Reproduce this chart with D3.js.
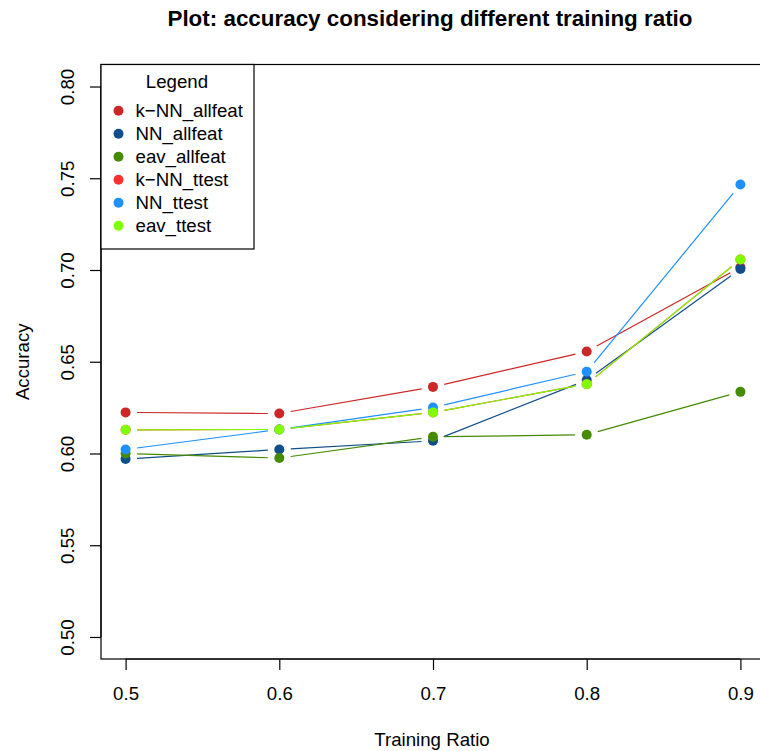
<!DOCTYPE html>
<html>
<head>
<meta charset="utf-8">
<script src="https://cdn.jsdelivr.net/npm/d3@7"></script>
<style>
  html, body { margin: 0; padding: 0; background: #fff; }
  svg { display: block; font-family: "Liberation Sans", Arial, Helvetica, sans-serif; }
</style>
</head>
<body>
<svg id="chart" width="760" height="751"></svg>
<script>
// Training ratios on the x axis
const ratios = [0.5, 0.6, 0.7, 0.8, 0.9];

// Accuracy per method and feature set
const knnAllfeat = [0.6224, 0.6218, 0.6363, 0.6556, 0.7015];
const nnAllfeat  = [0.5970, 0.6022, 0.6069, 0.6400, 0.7006];
const eavAllfeat = [0.6000, 0.5975, 0.6091, 0.6102, 0.6336];
const knnTtest   = [0.6129, 0.6131, 0.6224, 0.6378, 0.7057];
const nnTtest    = [0.6022, 0.6131, 0.6251, 0.6446, 0.7466];
const eavTtest   = [0.6129, 0.6131, 0.6224, 0.6378, 0.7057];

const seriesNames = ["k\u2212NN_allfeat", "NN_allfeat", "eav_allfeat", "k\u2212NN_ttest", "NN_ttest", "eav_ttest"];
const seriesValues = [knnAllfeat, nnAllfeat, eavAllfeat, knnTtest, nnTtest, eavTtest];
const seriesColors = ["#CD2626", "#104E8B", "#458B00", "#FF3030", "#1E90FF", "#7FFF00"];

const xTicks = [0.5, 0.6, 0.7, 0.8, 0.9];
const yTicks = [0.50, 0.55, 0.60, 0.65, 0.70, 0.75, 0.80];

const svg = d3.select("#chart");
const plot = { left: 101, right: 765, top: 64.5, bottom: 659 };
const fs = 18.67;      // base text size
const lw = 1.2;        // line width

// Axis ranges padded by 4% on each side
const x = d3.scaleLinear().domain([0.484, 0.916]).range([plot.left, plot.right]);
const y = d3.scaleLinear().domain([0.488, 0.812]).range([plot.bottom, plot.top]);

// Title
svg.append("text")
  .attr("x", (plot.left + plot.right) / 2 - 3)
  .attr("y", 26)
  .attr("text-anchor", "middle")
  .attr("font-size", 22.4)
  .attr("font-weight", "bold")
  .text("Plot: accuracy considering different training ratio");

// Plot box
svg.append("rect")
  .attr("x", plot.left).attr("y", plot.top)
  .attr("width", plot.right - plot.left).attr("height", plot.bottom - plot.top)
  .attr("fill", "none").attr("stroke", "#000").attr("stroke-width", lw);

// X axis
const xAxis = d3.axisBottom(x).tickValues(xTicks).tickFormat(d3.format(".1f"))
  .tickSizeInner(11).tickSizeOuter(0).tickPadding(17);
const gx = svg.append("g").attr("transform", `translate(0,${plot.bottom})`).call(xAxis);
gx.select(".domain").attr("d", `M${x(xTicks[0])},0H${x(xTicks[xTicks.length - 1])}`);
gx.selectAll("text").attr("font-size", fs).attr("font-family", null).attr("fill", "#000");
gx.selectAll("line, path").attr("stroke", "#000").attr("stroke-width", lw);

// Y axis with labels turned to read upwards
const yAxis = d3.axisLeft(y).tickValues(yTicks).tickFormat(d3.format(".2f"))
  .tickSizeInner(11).tickSizeOuter(0);
const gy = svg.append("g").attr("transform", `translate(${plot.left},0)`).call(yAxis);
gy.select(".domain").attr("d", `M0,${y(yTicks[0])}V${y(yTicks[yTicks.length - 1])}`);
gy.selectAll("line, path").attr("stroke", "#000").attr("stroke-width", lw);
gy.selectAll("text")
  .attr("font-size", fs).attr("font-family", null).attr("fill", "#000")
  .attr("x", null).attr("dy", null)
  .attr("text-anchor", "middle")
  .attr("transform", `translate(${74 - plot.left},0) rotate(-90)`);

// Axis titles
svg.append("text")
  .attr("x", (plot.left + plot.right) / 2 - 1)
  .attr("y", 746)
  .attr("text-anchor", "middle")
  .attr("font-size", fs)
  .text("Training Ratio");
svg.append("text")
  .attr("transform", `translate(29,${(plot.top + plot.bottom) / 2}) rotate(-90)`)
  .attr("text-anchor", "middle")
  .attr("font-size", fs)
  .text("Accuracy");

// Series: points joined by segments that stop short of each point
svg.append("clipPath").attr("id", "plotclip")
  .append("rect").attr("x", plot.left).attr("y", plot.top)
  .attr("width", plot.right - plot.left).attr("height", plot.bottom - plot.top);
const layer = svg.append("g").attr("clip-path", "url(#plotclip)");
const gap = 11.5;

seriesValues.forEach((vals, si) => {
  const pts = vals.map((v, i) => [x(ratios[i]), y(v)]);
  const g = layer.append("g");
  for (let i = 0; i < pts.length - 1; i++) {
    const [x0, y0] = pts[i], [x1, y1] = pts[i + 1];
    const len = Math.hypot(x1 - x0, y1 - y0);
    if (len <= 2 * gap) continue;
    const ux = (x1 - x0) / len, uy = (y1 - y0) / len;
    g.append("line")
      .attr("x1", x0 + ux * gap).attr("y1", y0 + uy * gap)
      .attr("x2", x1 - ux * gap).attr("y2", y1 - uy * gap)
      .attr("stroke", seriesColors[si]).attr("stroke-width", lw);
  }
  g.selectAll("circle").data(pts).join("circle")
    .attr("cx", d => d[0]).attr("cy", d => d[1]).attr("r", 5)
    .attr("fill", seriesColors[si]);
});

// Legend
const legend = svg.append("g");
legend.append("rect")
  .attr("x", 101).attr("y", 64.5).attr("width", 153).attr("height", 184.5)
  .attr("fill", "#fff").attr("stroke", "#000").attr("stroke-width", lw);
legend.append("text")
  .attr("x", 177).attr("y", 88.3)
  .attr("text-anchor", "middle").attr("font-size", fs)
  .text("Legend");
seriesNames.forEach((name, i) => {
  const cy = 110.7 + i * 23;
  legend.append("circle").attr("cx", 118.5).attr("cy", cy).attr("r", 5).attr("fill", seriesColors[i]);
  legend.append("text").attr("x", 135.5).attr("y", cy + 6.7).attr("font-size", fs).text(name);
});
</script>
</body>
</html>
